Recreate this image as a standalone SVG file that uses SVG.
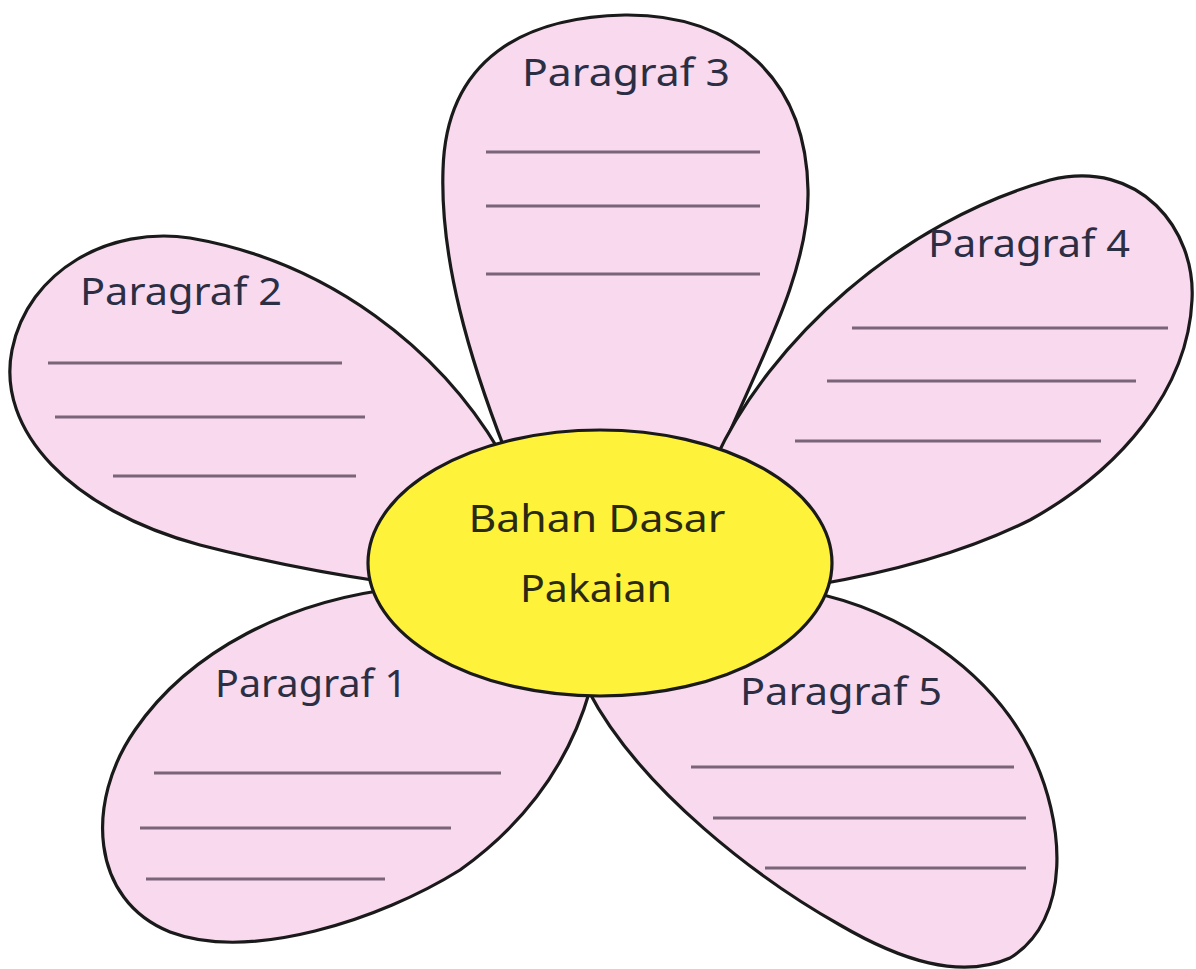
<svg xmlns="http://www.w3.org/2000/svg" width="1196" height="969" viewBox="0 0 1196 969">
  <style>
    .petal { fill: #f8d9ee; stroke: #1a1a1a; stroke-width: 3.2; stroke-linejoin: round; }
    .rule { stroke: #7a6478; stroke-width: 3; }
    .lbl { font-family: "Noto Sans", "Liberation Sans", sans-serif; font-size: 38px; fill: #2c2e44; }
    .ctr { font-family: "Noto Sans", "Liberation Sans", sans-serif; font-size: 38px; fill: #2a2a12; text-anchor: middle; }
    .center { fill: #fff23a; stroke: #1a1a1a; stroke-width: 3.2; }
  </style>
  <rect width="1196" height="969" fill="#ffffff"/>
  <g id="connectors"></g>
  <g id="petal-2">
    <path class="petal" d="M 500,452 C 440,350 330,262 190,238 C 110,226 28,270 12,350 C -4,430 70,510 200,545 C 270,563 330,574 385,582 Z"/>
    <line class="rule" x1="48" y1="363" x2="342" y2="363"/>
    <line class="rule" x1="55" y1="417" x2="365" y2="417"/>
    <line class="rule" x1="113" y1="476" x2="356" y2="476"/>
    <text class="lbl" x="80" y="305" textLength="202" lengthAdjust="spacingAndGlyphs">Paragraf 2</text>
  </g>
  <g id="petal-3">
    <path class="petal" d="M 505,450 C 470,360 440,260 443,170 C 446,58 525,17 625,15 C 735,14 806,80 808,190 C 810,270 760,360 722,450 Z"/>
    <line class="rule" x1="486" y1="152" x2="760" y2="152"/>
    <line class="rule" x1="486" y1="206" x2="760" y2="206"/>
    <line class="rule" x1="486" y1="274" x2="760" y2="274"/>
    <text class="lbl" x="522" y="86" textLength="208" lengthAdjust="spacingAndGlyphs">Paragraf 3</text>
  </g>
  <g id="petal-4">
    <path class="petal" d="M 715,460 C 770,340 900,222 1050,180 C 1140,158 1196,230 1192,300 C 1188,390 1120,470 1030,520 C 960,555 880,574 815,585 Z"/>
    <line class="rule" x1="852" y1="328" x2="1168" y2="328"/>
    <line class="rule" x1="827" y1="381" x2="1136" y2="381"/>
    <line class="rule" x1="795" y1="441" x2="1101" y2="441"/>
    <text class="lbl" x="928" y="257" textLength="202" lengthAdjust="spacingAndGlyphs">Paragraf 4</text>
  </g>
  <g id="petal-5">
    <path class="petal" d="M 810,592 C 900,610 990,670 1030,750 C 1066,822 1072,920 1010,958 C 960,980 900,960 840,925 C 760,880 640,790 588,690 Z"/>
    <line class="rule" x1="691" y1="767" x2="1014" y2="767"/>
    <line class="rule" x1="713" y1="818" x2="1026" y2="818"/>
    <line class="rule" x1="765" y1="868" x2="1026" y2="868"/>
    <text class="lbl" x="740" y="705" textLength="202" lengthAdjust="spacingAndGlyphs">Paragraf 5</text>
  </g>
  <g id="petal-1">
    <path class="petal" d="M 400,588 C 290,600 190,650 135,730 C 85,802 90,900 170,932 C 250,962 380,920 460,870 C 530,820 570,760 590,690 Z"/>
    <line class="rule" x1="154" y1="773" x2="501" y2="773"/>
    <line class="rule" x1="140" y1="828" x2="451" y2="828"/>
    <line class="rule" x1="146" y1="879" x2="385" y2="879"/>
    <text class="lbl" x="215" y="697" textLength="192" lengthAdjust="spacingAndGlyphs">Paragraf 1</text>
  </g>
  <g id="center">
    <ellipse class="center" cx="600" cy="563" rx="232" ry="133"/>
    <text class="ctr" x="597" y="532" textLength="257" lengthAdjust="spacingAndGlyphs">Bahan Dasar</text>
    <text class="ctr" x="596" y="602" textLength="152" lengthAdjust="spacingAndGlyphs">Pakaian</text>
  </g>
</svg>
